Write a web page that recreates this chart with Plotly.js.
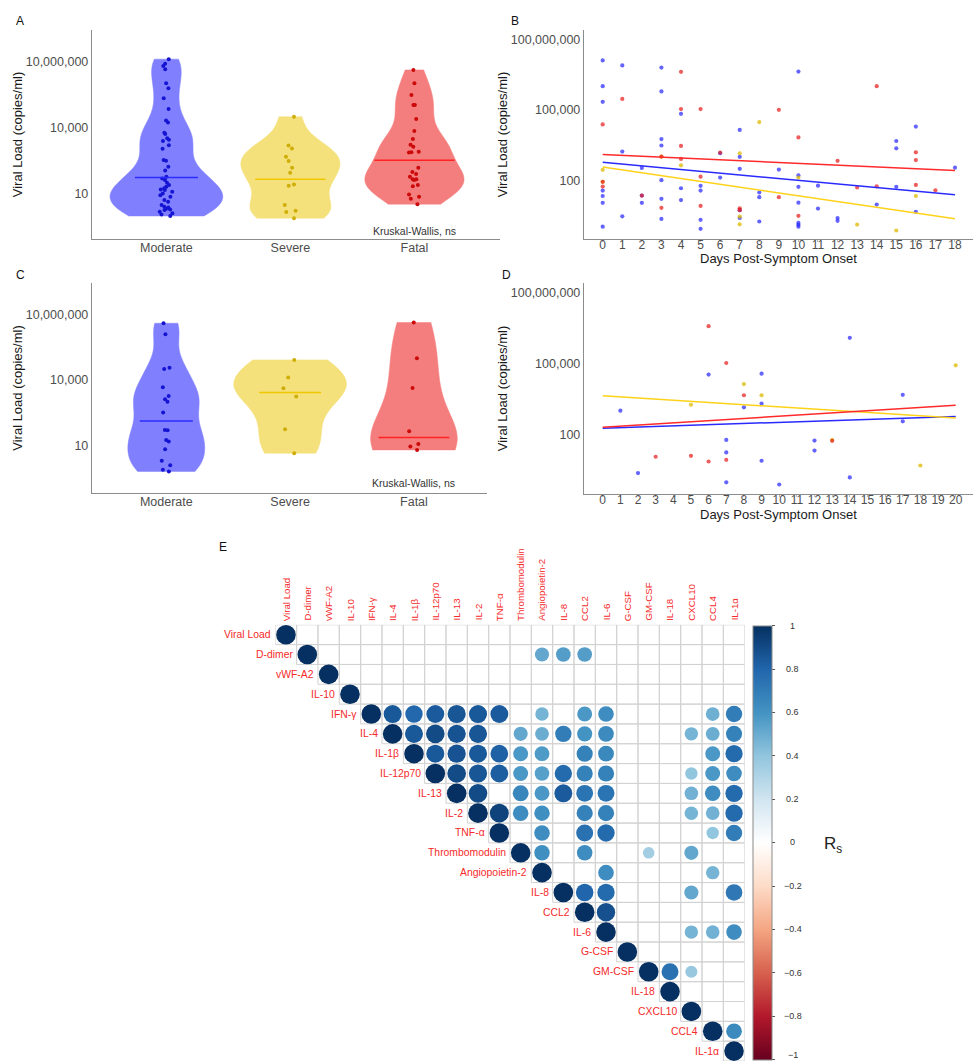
<!DOCTYPE html>
<html><head><meta charset="utf-8">
<script src="https://cdn.plot.ly/plotly-3.0.1.min.js"></script>
<style>html,body{margin:0;padding:0;background:#fff;}#chart{width:973px;height:1061px;}</style>
</head><body><div id="chart"></div>
<script>
// ---------------- DATA ----------------
const groups = ['Moderate', 'Severe', 'Fatal'];
// Panels A / C: log10 viral load (copies/ml) per patient
const aModerate = [7.12,6.91,6.81,6.66,6.02,5.79,5.34,4.85,4.32,4.23,3.77,3.71,3.51,3.44,3.39,3.19,3.04,2.52,2.49,2.22,2.04,1.76,1.68,1.61,1.49,1.38,1.30,1.23,1.18,1.15,1.08,1.00,0.92,0.85,0.70,0.62,0.47,0.39,0.36,0.30,0.27,0.24,0.16,0.09,0.04,-0.03];
const aSevere = [4.50,3.18,3.05,2.67,2.48,2.17,1.94,1.40,1.35,0.47,0.21,0.15,-0.13];
const aFatal = [6.63,6.02,5.49,5.03,5.03,4.39,3.85,3.48,3.22,3.13,2.90,2.87,2.86,2.17,1.97,1.88,1.76,1.65,1.65,1.61,1.38,1.33,0.95,0.85,0.76,0.51];
const aMedians = [1.72, 1.65, 2.51];
const cModerate = [6.59,6.09,4.51,4.56,3.67,3.28,3.13,3.01,2.52,1.73,1.71,1.20,1.27,0.85,0.32,0.12,-0.09,-0.16];
const cSevere = [4.92,4.12,3.63,3.25,1.76,0.67];
const cFatal = [6.62,5.00,3.64,1.67,1.09,0.97,0.82];
const cMedians = [2.14, 3.43, 1.38];
const statLabel = 'Kruskal-Wallis, ns';

// Panel B: days post-symptom onset vs log10 viral load
const bModDays = [0,0,0,0,0,0,0, 1,1,1, 2,2,2, 3,3,3,3,3,3,3, 4,4,4, 5,5,5,5, 6,6, 7,7,7,7,7, 8,8,8, 9, 10,10,10,10,10,10,10, 11,11, 12,12, 14, 15,15,15, 16,16, 18];
const bModLoad = [7.10,6.01,5.35,1.59,1.36,1.07,0.06, 6.89,3.24,0.50, 2.55,1.38,1.07, 6.80,5.79,3.77,3.50,2.03,1.24,0.39, 4.84,1.69,1.19, 1.79,1.59,0.35,-0.03, 3.17,2.14, 4.16,3.02,2.51,0.76,0.43, 1.51,1.31,0.28, 2.48, 6.63,2.23,1.75,1.08,0.22,0.14,0.06, 1.80,0.83, 0.43,0.31, 1.00, 3.69,3.38,1.75, 4.30,0.69, 2.56];
const bFatDays = [0,0,0, 1, 2, 3,3, 4,4,4,4, 5,5,5, 6, 7,7, 9,9, 10,10, 12, 13, 14,14, 16,16,16, 17];
const bFatLoad = [4.39,1.96,1.76, 5.47, 1.38, 3.03,0.86, 6.62,5.04,3.48,2.93, 5.04,2.18,0.94, 3.20, 0.84,0.76, 5.01,1.31, 3.84,0.52, 2.85, 1.72, 6.01,1.77, 3.21,2.88,1.83, 1.60];
const bSevDays = [0,0, 3, 4, 7,7,7, 8, 10, 13, 15, 16];
const bSevLoad = [2.47,1.96, 3.03, 2.66, 3.17,0.49,0.16, 4.49, 2.14, 0.15, -0.10, 1.36];
// fitted regression lines (intercept, slope) in log10 units: Moderate, Severe, Fatal
const bFitIntercept = [2.79, 2.59, 3.12];
const bFitSlope = [-0.0767, -0.122, -0.0378];
const bDayTicks = [0,1,2,3,4,5,6,7,8,9,10,11,12,13,14,15,16,17,18];

// Panel D
const dModDays = [1, 2, 6, 7,7,7, 8, 9,9,9, 10, 12,12, 14,14, 17,17];
const dModLoad = [3.02, 0.39, 4.54, 1.79,1.26,0.00, 3.16, 4.58,3.32,0.91, -0.09, 1.76,1.34, 6.09,0.21, 3.69,2.57];
const dFatDays = [3, 5, 6,6, 7,7, 8, 13];
const dFatLoad = [1.08, 1.12, 6.58,0.88, 5.03,0.95, 3.67, 1.75];
const dSevDays = [5, 8, 9, 13, 18, 20];
const dSevLoad = [3.27, 4.14, 3.67, 1.79, 0.71, 4.93];
const dFitIntercept = [2.28, 3.65, 2.32];
const dFitSlope = [0.025, -0.047, 0.0465];
const dDayTicks = [0,1,2,3,4,5,6,7,8,9,10,11,12,13,14,15,16,17,18,19,20];
const xTitle = 'Days Post-Symptom Onset';
const yTitle = 'Viral Load (copies/ml)';

// Panel E: Spearman correlations, upper triangle (row i holds columns i..21), null = not significant
const markers = ['Viral Load','D-dimer','vWF-A2','IL-10','IFN-γ','IL-4','IL-1β','IL-12p70','IL-13','IL-2','TNF-α','Thrombomodulin','Angiopoietin-2','IL-8','CCL2','IL-6','G-CSF','GM-CSF','IL-18','CXCL10','CCL4','IL-1α'];
const rsUpper = [
  [1,null,null,null,null,null,null,null,null,null,null,null,null,null,null,null,null,null,null,null,null,null],
  [1,null,null,null,null,null,null,null,null,null,null,0.52,0.56,0.56,null,null,null,null,null,null,null],
  [1,null,null,null,null,null,null,null,null,null,null,null,null,null,null,null,null,null,null,null],
  [1,null,null,null,null,null,null,null,null,null,null,null,null,null,null,null,null,null,null],
  [1,0.85,0.79,0.84,0.86,0.85,0.84,null,0.47,null,0.58,0.63,null,null,null,null,0.49,0.70],
  [1,0.85,0.90,0.87,0.86,null,0.52,0.50,0.70,0.60,0.64,null,null,null,0.47,0.50,0.68],
  [1,0.85,0.87,0.85,0.82,0.58,0.57,null,0.68,0.65,null,null,null,null,0.58,0.78],
  [1,0.90,0.86,0.83,0.58,0.55,0.78,0.68,0.68,null,null,null,0.40,0.58,0.63],
  [1,0.90,null,0.66,0.58,0.84,0.74,0.74,null,null,null,0.48,0.63,0.78],
  [1,0.93,0.63,0.62,null,0.68,0.68,null,null,null,0.47,0.48,0.78],
  [1,null,0.63,null,0.75,0.78,null,null,null,null,0.40,0.70],
  [1,0.62,null,0.63,null,null,0.35,null,0.52,null,null],
  [1,null,null,0.63,null,null,null,null,0.47,null],
  [1,0.80,0.78,null,null,null,0.52,null,0.72],
  [1,0.88,null,null,null,null,null,null],
  [1,null,null,null,0.47,0.48,0.63],
  [1,null,null,null,null,null],
  [1,0.75,0.38,null,null],
  [1,null,null,null],
  [1,null,null],
  [1,0.64],
  [1]
];
const cbTicks = [1,0.8,0.6,0.4,0.2,0,-0.2,-0.4,-0.6,-0.8,-1];

// ---------------- STYLE ----------------
const W = 973, H = 1061;
const fx = p => p / W, fy = p => 1 - p / H;
const FONT = 'Liberation Sans, Arial, sans-serif';
const fillCols = ['#8080FF', '#F5E17C', '#F47D7D'];
const ptCols = ['#1414D2', '#CFAE08', '#CC0A0A'];
const medCols = ['#2B2BFF', '#F0C800', '#FF2222'];
const scatCols = ['rgba(40,40,255,0.72)', 'rgba(222,186,0,0.75)', 'rgba(232,30,30,0.72)'];
const lineCols = ['#2A2AFF', '#FFD21A', '#FF2A2A'];
const corrScale = [[0,'#67001F'],[0.1,'#B2182B'],[0.2,'#D6604D'],[0.3,'#F4A582'],[0.4,'#FDDBC7'],[0.5,'#FFFFFF'],[0.6,'#D1E5F0'],[0.7,'#92C5DE'],[0.8,'#4393C3'],[0.9,'#2166AC'],[1,'#053061']];

function nrd0(v) {
  const n = v.length, s = [...v].sort((a, b) => a - b);
  const mean = s.reduce((a, b) => a + b, 0) / n;
  const sd = Math.sqrt(s.reduce((a, b) => a + (b - mean) ** 2, 0) / (n - 1));
  const q = p => { const h = (n - 1) * p, lo = Math.floor(h); return s[lo] + (h - lo) * ((s[lo + 1] ?? s[lo]) - s[lo]); };
  let lo = Math.min(sd, (q(0.75) - q(0.25)) / 1.34);
  if (!lo) lo = sd || 1;
  return 0.9 * lo * Math.pow(n, -0.2);
}

const traces = [];
function violinPanel(sets, medians, widths, medHalf, adjust, xa, ya) {
  sets.forEach((vals, i) => {
    traces.push({
      type: 'violin', x0: i, y: vals, xaxis: xa, yaxis: ya, name: groups[i],
      points: 'all', pointpos: 0, jitter: 0.14, bandwidth: adjust[i] * nrd0(vals), spanmode: 'hard',
      scalemode: 'width', width: widths[i], fillcolor: fillCols[i], opacity: 1,
      line: {color: fillCols[i], width: 0.5}, marker: {color: ptCols[i], size: 4, line: {width: 0}},
      box: {visible: false}, meanline: {visible: false}, showlegend: false, hoverinfo: 'skip'
    });
    traces.push({
      type: 'scatter', mode: 'lines', x: [i - medHalf[i], i + medHalf[i]], y: [medians[i], medians[i]],
      xaxis: xa, yaxis: ya, line: {color: medCols[i], width: 1.5}, showlegend: false, hoverinfo: 'skip'
    });
  });
}
violinPanel([aModerate, aSevere, aFatal], aMedians, [0.91, 0.80, 0.80], [0.254, 0.283, 0.323], [0.75, 0.85, 0.9], 'x', 'y');
violinPanel([cModerate, cSevere, cFatal], cMedians, [0.62, 0.91, 0.70], [0.214, 0.25, 0.286], [0.75, 1.0, 1.0], 'x3', 'y3');

function scatterPanel(days, loads, icpt, slope, xmax, xa, ya) {
  [0, 1, 2].forEach(i => {
    traces.push({type: 'scatter', mode: 'markers', x: days[i], y: loads[i], xaxis: xa, yaxis: ya,
      marker: {color: scatCols[i], size: 4.2}, showlegend: false, hoverinfo: 'skip', cliponaxis: false});
  });
  [0, 1, 2].forEach(i => {
    traces.push({type: 'scatter', mode: 'lines', x: [0, xmax], y: [icpt[i], icpt[i] + slope[i] * xmax],
      xaxis: xa, yaxis: ya, line: {color: lineCols[i], width: 1.5}, showlegend: false, hoverinfo: 'skip'});
  });
}
// order of groups: Moderate(blue), Severe(yellow), Fatal(red)
scatterPanel([bModDays, bSevDays, bFatDays], [bModLoad, bSevLoad, bFatLoad], bFitIntercept, bFitSlope, 18, 'x2', 'y2');
scatterPanel([dModDays, dSevDays, dFatDays], [dModLoad, dSevLoad, dFatLoad], dFitIntercept, dFitSlope, 20, 'x4', 'y4');

// correlogram
const cx = [], cy = [], cr = [];
rsUpper.forEach((row, i) => row.forEach((r, k) => { if (r !== null) { cx.push(i + k); cy.push(i); cr.push(r); } }));
const cbTop = 625.7, cbLen = 433.5;
traces.push({
  type: 'scatter', mode: 'markers', x: cx, y: cy, xaxis: 'x5', yaxis: 'y5', showlegend: false, hoverinfo: 'skip',
  marker: {
    size: cr.map(r => 19.6 * Math.sqrt(Math.abs(r))), color: cr, colorscale: corrScale, cmin: -1, cmax: 1,
    opacity: 1, line: {width: 0}, showscale: true,
    colorbar: {x: fx(752.7), xanchor: 'left', y: fy(cbTop), yanchor: 'top', len: cbLen, lenmode: 'pixels',
      thickness: 19, thicknessmode: 'pixels', xpad: 0, ypad: 0, outlinewidth: 1, outlinecolor: '#8a8a8a',
      tickvals: cbTicks, showticklabels: false, ticks: 'outside', ticklen: 3, tickcolor: '#555', tickwidth: 1}
  }
});

const shapes = [];
for (let i = 0; i < markers.length; i++) for (let j = i; j < markers.length; j++) {
  shapes.push({type: 'rect', xref: 'x5', yref: 'y5', x0: j - 0.5, x1: j + 0.5, y0: i - 0.5, y1: i + 0.5,
    line: {color: '#d2d2d2', width: 1}, fillcolor: 'rgba(0,0,0,0)', layer: 'below'});
}

const annotations = [];
const tickFont = {family: FONT, size: 12.5, color: '#4d4d4d'};
const dayTickFont = {family: FONT, size: 12, color: '#4d4d4d'};
const titleFont = {family: FONT, size: 13, color: '#1a1a1a'};
[['A', 20, 21], ['B', 515, 21], ['C', 20, 275], ['D', 506, 275], ['E', 223, 547]].forEach(([t, x, y]) =>
  annotations.push({text: t, x: fx(x), y: fy(y), xref: 'paper', yref: 'paper', showarrow: false,
    font: {family: FONT, size: 12, color: '#111'}, xanchor: 'center', yanchor: 'middle'}));
annotations.push({text: statLabel, x: 2, y: fy(231), xref: 'x', yref: 'paper', showarrow: false,
  font: {family: FONT, size: 10.5, color: '#333'}, xanchor: 'center', yanchor: 'middle'});
annotations.push({text: statLabel, x: 2, y: fy(483.3), xref: 'x3', yref: 'paper', showarrow: false,
  font: {family: FONT, size: 10.5, color: '#333'}, xanchor: 'center', yanchor: 'middle'});
// x-axis titles of panels B and D
[['x2', 259], ['x4', 514]].forEach(([xa, y]) => annotations.push({text: xTitle, xref: xa + ' domain', x: 0.5,
  yref: 'paper', y: fy(y), xanchor: 'center', yanchor: 'middle', showarrow: false, font: titleFont}));
markers.forEach((m, i) => {
  annotations.push({text: m, x: i - 0.5, y: i, xref: 'x5', yref: 'y5', xanchor: 'right', yanchor: 'middle', xshift: -2,
    showarrow: false, font: {family: FONT, size: 10.4, color: '#F52A2A'}});
  annotations.push({text: m, x: i, y: -0.5, xref: 'x5', yref: 'y5', xanchor: 'center', yanchor: 'bottom', yshift: 2,
    textangle: -90, showarrow: false, font: {family: FONT, size: 9.7, color: '#F52A2A'}});
});
// colour-bar labels, centred as in corrplot
cbTicks.forEach(v => annotations.push({
  text: String(v).replace('-', '−'), x: fx(792.5), y: fy(Math.min(cbTop + (1 - v) / 2 * cbLen, 1055)), xref: 'paper', yref: 'paper',
  xanchor: 'center', yanchor: 'middle', showarrow: false, font: {family: FONT, size: 9, color: '#333'}}));
annotations.push({text: 'R<sub>s</sub>', x: fx(833), y: fy(845), xref: 'paper', yref: 'paper', showarrow: false,
  font: {family: FONT, size: 17, color: '#222'}, xanchor: 'center', yanchor: 'middle'});

const lineCol = '#8c8c8c';
function catX(domain, range) {
  return {domain, range, type: 'linear', tickvals: [0, 1, 2], ticktext: groups, showline: true, linecolor: lineCol,
    linewidth: 1.2, ticks: '', showgrid: false, zeroline: false, tickfont: tickFont, ticklabelstandoff: -3};
}
function logY(domain, range, tv, tt, anchor) {
  return {domain, range, anchor, tickvals: tv, ticktext: tt, showline: true, linecolor: lineCol, linewidth: 1.2,
    ticks: '', showgrid: false, zeroline: false, tickfont: tickFont,
    title: {text: yTitle, font: titleFont, standoff: 0}};
}
function dayX(domain, range, ticks, anchor, standoff) {
  return {domain, range, anchor, tickvals: ticks, showline: true, linecolor: lineCol, linewidth: 1.2,
    ticks: 'outside', ticklen: 2, tickcolor: '#bbb', showgrid: false, zeroline: false, tickfont: dayTickFont,
    ticklabelstandoff: standoff};
}

const layout = {
  width: W, height: H, margin: {l: 0, r: 0, t: 0, b: 0}, paper_bgcolor: '#fff', plot_bgcolor: 'rgba(0,0,0,0)',
  showlegend: false, violinmode: 'overlay', font: {family: FONT},
  xaxis: Object.assign(catX([fx(92), fx(500)], [-0.6, 2.69]), {anchor: 'y'}),
  yaxis: logY([fy(239), fy(30)], [-1.08, 8.45], [1, 4, 7], ['10', '10,000', '10,000,000'], 'x'),
  xaxis2: dayX([fx(584), 1], [-0.956, 18.92], bDayTicks, 'y2', -8),
  yaxis2: logY([fy(239), fy(30)], [-0.46, 8.39], [2, 5, 8], ['100', '100,000', '100,000,000'], 'x2'),
  xaxis3: Object.assign(catX([fx(92), fx(487)], [-0.6, 2.59]), {anchor: 'y3'}),
  yaxis3: logY([fy(492.7), fy(283.3)], [-1.13, 8.41], [1, 4, 7], ['10', '10,000', '10,000,000'], 'x3'),
  xaxis4: dayX([fx(584), 1], [-1.06, 20.98], dDayTicks, 'y4', -8),
  yaxis4: logY([fy(494), fy(283)], [-0.49, 8.40], [2, 5, 8], ['100', '100,000', '100,000,000'], 'x4'),
  xaxis5: {domain: [fx(275.3), fx(744.7)], range: [-0.5, 21.5], anchor: 'y5', visible: false},
  yaxis5: {domain: [0, fy(624.8)], range: [21.5, -0.5], anchor: 'x5', visible: false},
  shapes, annotations
};
Plotly.newPlot('chart', traces, layout, {staticPlot: true, displayModeBar: false});
</script></body></html>
